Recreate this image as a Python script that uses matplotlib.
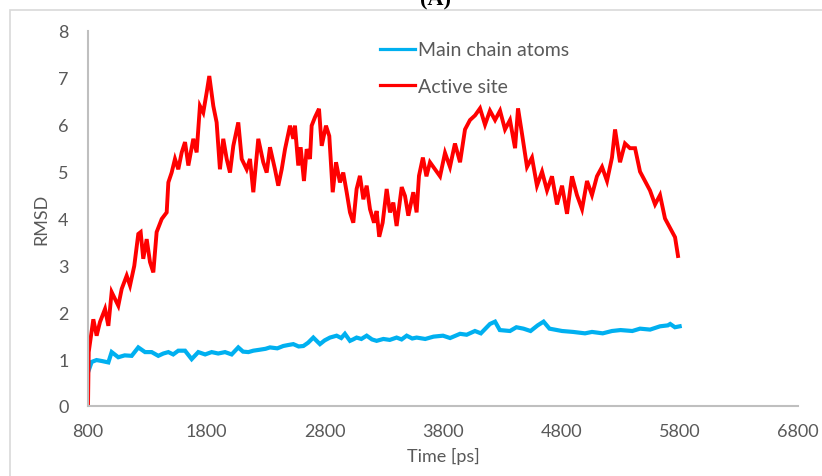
import matplotlib
matplotlib.use("Agg")
import matplotlib.pyplot as plt
from matplotlib.patches import Rectangle

# ---- data ----
red_time = [800, 806, 845, 873, 901, 944, 972, 1000, 1056, 1085, 1127, 1155, 1191, 1225, 1245,
            1267, 1296, 1324, 1352, 1380, 1423, 1465, 1479, 1507, 1535, 1563, 1592, 1620, 1648,
            1690, 1718, 1746, 1774, 1803, 1825, 1859, 1887, 1915, 1943, 1972, 2000, 2028, 2070,
            2099, 2141, 2169, 2197, 2239, 2281, 2310, 2338, 2380, 2408, 2437, 2465, 2507, 2535,
            2549, 2577, 2597, 2625, 2648, 2676, 2690, 2718, 2752, 2775, 2811, 2839, 2868, 2896,
            2929, 2957, 2986, 3014, 3042, 3070, 3098, 3127, 3155, 3183, 3217, 3239, 3261, 3290,
            3324, 3352, 3380, 3408, 3451, 3479, 3507, 3549, 3577, 3597, 3630, 3660, 3690, 3775,
            3817, 3859, 3901, 3944, 3986, 4028, 4071, 4113, 4155, 4197, 4240, 4282, 4324, 4366,
            4409, 4434, 4468, 4510, 4552, 4594, 4637, 4679, 4721, 4763, 4806, 4848, 4890, 4932,
            4975, 5017, 5059, 5101, 5144, 5186, 5228, 5254, 5296, 5338, 5380, 5423, 5465, 5507,
            5549, 5592, 5634, 5676, 5718, 5761, 5786]
red_rmsd = [0.0, 1.15, 1.85, 1.5, 1.79, 2.07, 1.71, 2.43, 2.14, 2.5, 2.78, 2.57, 2.99, 3.67, 3.71,
            3.14, 3.56, 3.07, 2.85, 3.71, 3.99, 4.13, 4.77, 4.98, 5.27, 5.05, 5.41, 5.63, 5.13,
            5.70, 5.41, 6.40, 6.26, 6.69, 7.04, 6.40, 6.05, 5.05, 5.70, 5.27, 4.98, 5.55, 6.05,
            5.27, 5.05, 5.27, 4.56, 5.70, 5.20, 4.98, 5.52, 5.05, 4.70, 5.05, 5.48, 5.98, 5.70,
            5.98, 5.13, 5.52, 4.80, 5.48, 5.27, 5.98, 6.16, 6.34, 5.55, 5.98, 5.76, 4.56, 5.20,
            4.77, 4.98, 4.56, 4.13, 3.91, 4.63, 4.91, 4.41, 4.70, 4.20, 3.91, 4.16, 3.61, 3.91,
            4.63, 4.13, 4.34, 3.84, 4.67, 4.48, 4.06, 4.56, 4.13, 4.91, 5.3, 4.9, 5.2, 4.9,
            5.4, 5.1, 5.6, 5.2, 5.9, 6.1, 6.2, 6.35, 6.0, 6.3, 6.1, 6.3, 5.9, 6.1,
            5.5, 6.35, 5.8, 5.1, 5.3, 4.7, 5.0, 4.6, 4.9, 4.3, 4.7, 4.1, 4.9, 4.5,
            4.2, 4.8, 4.5, 4.9, 5.1, 4.8, 5.3, 5.9, 5.2, 5.6, 5.5, 5.5, 5.0, 4.8,
            4.6, 4.3, 4.5, 4.0, 3.8, 3.6, 3.2]

blue_time = [800, 831, 872, 916, 972, 1000, 1056, 1110, 1169, 1225, 1282, 1338, 1394, 1437, 1479,
             1520, 1563, 1620, 1676, 1732, 1790, 1845, 1900, 1958, 2014, 2070, 2110, 2155, 2197,
             2250, 2300, 2338, 2400, 2450, 2490, 2535, 2580, 2620, 2660, 2704, 2760, 2800, 2845,
             2901, 2940, 2971, 3014, 3040, 3070, 3110, 3155, 3200, 3239, 3296, 3350, 3408, 3450,
             3493, 3540, 3577, 3650, 3720, 3800, 3860, 3944, 4000, 4070, 4120, 4197, 4240, 4280,
             4366, 4420, 4480, 4540, 4600, 4650, 4700, 4806, 4900, 5000, 5059, 5150, 5228, 5300,
             5400, 5465, 5550, 5634, 5700, 5720, 5760, 5800]
blue_rmsd = [0.72, 0.94, 0.98, 0.96, 0.93, 1.15, 1.04, 1.08, 1.07, 1.25, 1.15, 1.15, 1.07, 1.12, 1.15,
             1.10, 1.18, 1.18, 1.00, 1.15, 1.10, 1.15, 1.12, 1.15, 1.10, 1.25, 1.16, 1.15, 1.18,
             1.20, 1.22, 1.25, 1.23, 1.28, 1.30, 1.32, 1.27, 1.28, 1.35, 1.46, 1.32, 1.40, 1.46,
             1.50, 1.45, 1.54, 1.39, 1.42, 1.46, 1.43, 1.50, 1.42, 1.39, 1.43, 1.41, 1.46, 1.42,
             1.50, 1.44, 1.46, 1.43, 1.48, 1.50, 1.45, 1.54, 1.52, 1.60, 1.55, 1.75, 1.80, 1.62,
             1.60, 1.68, 1.65, 1.60, 1.72, 1.80, 1.65, 1.60, 1.58, 1.55, 1.58, 1.55, 1.60, 1.62,
             1.60, 1.65, 1.63, 1.70, 1.72, 1.75, 1.68, 1.70]

series_labels = ["Main chain atoms", "Active site"]
x_ticks = [800, 1800, 2800, 3800, 4800, 5800, 6800]
y_ticks = [0, 1, 2, 3, 4, 5, 6, 7, 8]

TXT = "#595959"
plt.rcParams['font.family'] = ['Lato', 'DejaVu Sans']

fig = plt.figure(figsize=(8.22, 4.77), dpi=100)
ax = fig.add_axes([88/822, 1-407/477, (798-88)/822, (407-32)/477])

# outer chart frame (partially off-canvas)
fig.patches.append(Rectangle((10/822, -0.1), 1.0, 1 - 11/477 + 0.1, transform=fig.transFigure,
                             fill=False, edgecolor="#D9D9D9", linewidth=1.2))
fig.text(435/822, 1 - 5/477, "(A)", ha="center", va="baseline", fontsize=16,
         fontweight="bold", family="Liberation Serif", color="black")

ax.plot(blue_time, blue_rmsd, color="#00B0F0", linewidth=3.0, label=series_labels[0],
        solid_joinstyle="miter")
ax.plot(red_time, red_rmsd, color="#FF0000", linewidth=2.8, label=series_labels[1],
        solid_joinstyle="miter")

ax.set_xlim(800, 6800)
ax.set_ylim(0, 8)
ax.set_xticks(x_ticks)
ax.set_yticks(y_ticks)
ax.tick_params(length=0, labelsize=13, colors=TXT, pad=12)
ax.tick_params(axis="y", pad=14)
for s in ["top", "right"]:
    ax.spines[s].set_visible(False)
for s in ["left", "bottom"]:
    ax.spines[s].set_color("#BFBFBF")
    ax.spines[s].set_linewidth(1.5)

ax.set_xlabel("Time [ps]", fontsize=13, color=TXT, labelpad=6)
ax.set_ylabel("RMSD", fontsize=13, color=TXT, labelpad=6)

leg = ax.legend(loc="upper left", bbox_to_anchor=(0.386, 1.019), frameon=False, fontsize=14,
                handlelength=1.8, handletextpad=0.2, labelspacing=1.0)
for line in leg.get_lines():
    line.set_linewidth(2.3)
for t in leg.get_texts():
    t.set_color(TXT)

fig.savefig("out.png", dpi=100)
